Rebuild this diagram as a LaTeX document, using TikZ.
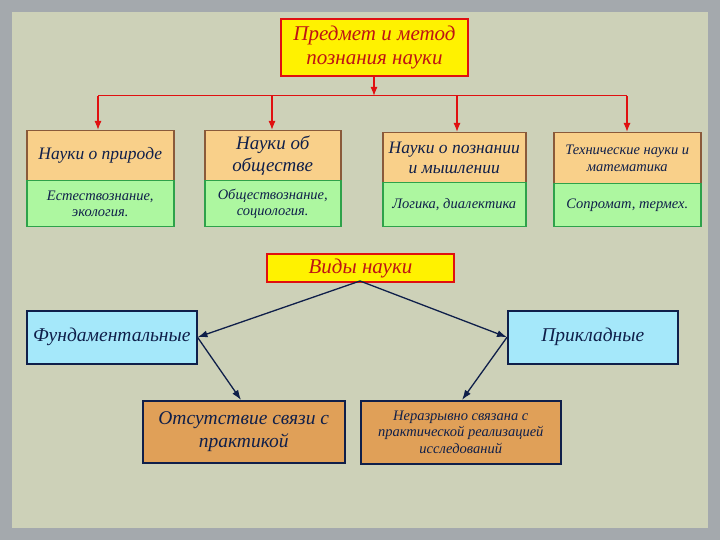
\documentclass[tikz,border=0pt]{standalone}
\usepackage{fontspec}
\setmainfont{Liberation Serif}
\usetikzlibrary{arrows.meta}
\definecolor{outer}{HTML}{A4A9AD}
\definecolor{panel}{HTML}{CDD1B8}
\definecolor{ora}{HTML}{F9D08A}
\definecolor{grn}{HTML}{ADF7A0}
\definecolor{grnb}{HTML}{2EA24A}
\definecolor{orb}{HTML}{8A5A3A}
\definecolor{navy}{HTML}{0F1F4A}
\definecolor{cyan}{HTML}{A5E8FA}
\definecolor{brn}{HTML}{E0A058}
\definecolor{rd}{HTML}{E01010}
\newcommand{\fs}[1]{\fontsize{#1}{1.15\dimexpr#1pt\relax}\selectfont\itshape}
\begin{document}
\begin{tikzpicture}[x=1pt,y=-1pt,
 box/.style={draw,line width=1.5pt,inner sep=0pt,anchor=north west,align=center,text=navy},
 top/.style={box,fill=yellow,draw=rd,line width=2pt,text={rgb,255:red,190;green,20;blue,20},font=\fs{21}},
 obox/.style={box,fill=ora,draw=orb,font=\fs{19}},
 gbox/.style={box,fill=grn,draw=grnb,font=\fs{14.5}},
 cbox/.style={box,fill=cyan,draw=navy,font=\fs{19.5}},
 bbox/.style={box,fill=brn,draw=navy},
 rarr/.style={draw=rd,line width=1.3pt,-{Latex[length=9pt,width=7pt]}},
 barr/.style={draw=navy,line width=1.3pt,-{Latex[length=10pt,width=7pt]}}]
\fill[outer] (0,0) rectangle (720,540);
\fill[panel] (12,12) rectangle (708,528);
\node[top,minimum width=187pt,minimum height=57pt] (t) at (280,18) {Предмет и метод\\познания науки};
\node[obox,minimum width=147pt,minimum height=50pt,font=\fs{17.5}] (a1) at (26,130) {Науки о природе};
\node[gbox,minimum width=147pt,minimum height=46pt] (b1) at (26,180) {Естествознание,\\экология.};
\node[obox,minimum width=136pt,minimum height=50pt] (a2) at (204,130) {Науки об\\обществе};
\node[gbox,minimum width=136pt,minimum height=46pt] (b2) at (204,180) {Обществознание,\\социология.};
\node[obox,minimum width=143pt,minimum height=50pt,font=\fs{17.5}] (a3) at (382,132) {Науки о познании\\и мышлении};
\node[gbox,minimum width=143pt,minimum height=44pt] (b3) at (382,182) {Логика, диалектика};
\node[obox,minimum width=147pt,minimum height=51pt,font=\fs{14.5}] (a4) at (553,132) {Технические науки и\\математика};
\node[gbox,minimum width=147pt,minimum height=43pt] (b4) at (553,183) {Сопромат, термех.};
\coordinate (j) at (374,96);
\draw[rarr] (t.south-|j) -- (j);
\draw[draw=rd,line width=1pt] (98,96) -- (627,96);
\coordinate (j1) at (98,96); \coordinate (j2) at (272,96);
\coordinate (j3) at (457,96); \coordinate (j4) at (627,96);
\draw[rarr] (j1) -- (j1|-a1.north);
\draw[rarr] (j2) -- (j2|-a2.north);
\draw[rarr] (j3) -- (j3|-a3.north);
\draw[rarr] (j4) -- (j4|-a4.north);
\node[top,minimum width=187pt,minimum height=28pt] (v) at (266,253) {Виды науки};
\node[cbox,minimum width=170pt,minimum height=53pt] (f) at (26,310) {Фундаментальные};
\node[cbox,minimum width=170pt,minimum height=53pt] (p) at (507,310) {Прикладные};
\node[bbox,minimum width=202pt,minimum height=62pt,font=\fs{19.5}] (o) at (142,400) {Отсутствие связи с\\практикой};
\node[bbox,minimum width=200pt,minimum height=63pt,font=\fs{14.5}] (n) at (360,400) {Неразрывно связана с\\практической реализацией\\исследований};
\coordinate (vs) at (360,281);
\draw[barr] (vs) -- (f.east);
\draw[barr] (vs) -- (p.west);
\draw[barr] (f.east) -- (241,400);
\draw[barr] (p.west) -- (462,400);
\end{tikzpicture}
\end{document}
